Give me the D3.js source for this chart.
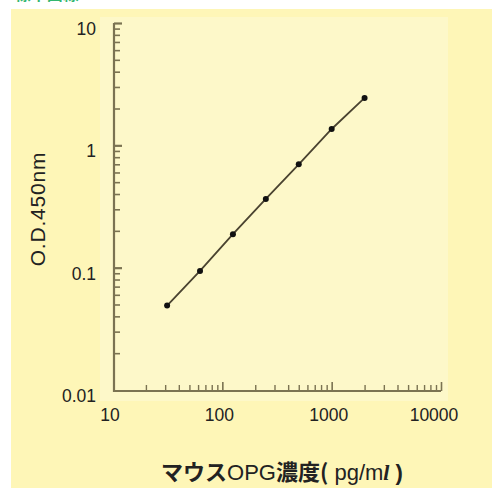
<!DOCTYPE html>
<html>
<head>
<meta charset="utf-8">
<script src="https://cdn.jsdelivr.net/npm/d3@7"></script>
<style>
  body { margin: 0; background: #fff; }
  svg { display: block; font-family: Arial, "Liberation Sans", sans-serif; }
</style>
</head>
<body>
<script>
var width = 492;
var height = 488;

// standard curve: concentration (pg/ml) vs O.D.450nm
var conc = [31.25, 62.5, 125, 250, 500, 1000, 2000];
var od = [0.049, 0.094, 0.188, 0.365, 0.70, 1.36, 2.44];

var xMajor = [10, 100, 1000, 10000];
var xLabels = ["10", "100", "1000", "10000"];
var yMajor = [0.01, 0.1, 1, 10];
var yLabels = ["0.01", "0.1", "1", "10"];

var axisCol = "#7b7352";

var svg = d3.select("body").append("svg")
    .attr("width", width)
    .attr("height", height);

// green section heading, cropped at the top edge like the source
svg.append("text")
    .attr("x", 0)
    .attr("y", 0)
    .style("font-size", "16px")
    .style("font-family", "'Noto Sans CJK JP', sans-serif")
    .style("font-weight", "bold")
    .attr("fill", "#34b66f")
    .text("4.標準曲線");

svg.append("rect")
    .attr("x", 11).attr("y", 9)
    .attr("width", width - 11).attr("height", height - 9)
    .attr("fill", "#fef6b7");

svg.append("rect")
    .attr("x", 100).attr("y", 17)
    .attr("width", 348).attr("height", 384)
    .attr("fill", "#fdf8c9");

var x = d3.scaleLog().domain([10, 10000]).range([113, 441]);
var y = d3.scaleLog().domain([0.01, 10]).range([390, 23]);

// minor tick values 2..9 per decade
function minors(lo, hi) {
  var out = [];
  for (var d = lo; d < hi; d *= 10) {
    for (var k = 2; k <= 9; k++) out.push(d * k);
  }
  return out;
}

// y axis: ticks pointing inside
var gy = svg.append("g").attr("transform", "translate(114,0)");
gy.append("g")
    .call(d3.axisRight(y).tickValues(minors(0.01, 10)).tickSize(6).tickFormat(""))
    .call(function(g) { g.select(".domain").remove(); })
    .selectAll("line").attr("stroke", axisCol).attr("stroke-width", 1.6);
gy.append("g")
    .call(d3.axisRight(y).tickValues([0.1, 1, 10]).tickSize(8).tickFormat(""))
    .call(function(g) { g.select(".domain").remove(); })
    .selectAll("line").attr("stroke", axisCol).attr("stroke-width", 2.2);

// x axis: ticks pointing up
var gx = svg.append("g").attr("transform", "translate(0,391)");
gx.append("g")
    .call(d3.axisTop(x).tickValues(minors(10, 10000)).tickSize(6).tickFormat(""))
    .call(function(g) { g.select(".domain").remove(); })
    .selectAll("line").attr("stroke", axisCol).attr("stroke-width", 1.4);
gx.append("g")
    .call(d3.axisTop(x).tickValues([100, 1000, 10000]).tickSize(9).tickFormat(""))
    .call(function(g) { g.select(".domain").remove(); })
    .selectAll("line").attr("stroke", axisCol).attr("stroke-width", 1.6);

// axis lines
svg.append("path")
    .attr("d", "M114," + y(10) + "V391H" + x(10000))
    .attr("fill", "none")
    .attr("stroke", axisCol)
    .attr("stroke-width", 2.2);

// tick labels
svg.append("g").selectAll("text")
    .data(yMajor)
  .enter().append("text")
    .attr("x", 96)
    .attr("y", function(d) { return y(d) + 12; })
    .attr("text-anchor", "end")
    .style("font-size", "17.5px")
    .attr("fill", "#222")
    .text(function(d, i) { return yLabels[i]; });

svg.append("g").selectAll("text")
    .data(xMajor)
  .enter().append("text")
    .attr("x", function(d, i) { return x(d) - (i == 3 ? 7 : 3); })
    .attr("y", 421)
    .attr("text-anchor", "middle")
    .style("font-size", "17.5px")
    .attr("fill", "#222")
    .text(function(d, i) { return xLabels[i]; });

// data line + points
var line = d3.line()
    .x(function(d, i) { return x(conc[i]); })
    .y(function(d) { return y(d); });

svg.append("path")
    .datum(od)
    .attr("d", line)
    .attr("fill", "none")
    .attr("stroke", "#4a4330")
    .attr("stroke-width", 1.8);

svg.selectAll("circle")
    .data(od)
  .enter().append("circle")
    .attr("cx", function(d, i) { return x(conc[i]); })
    .attr("cy", function(d) { return y(d); })
    .attr("r", 3)
    .attr("fill", "#111");

// axis titles
svg.append("text")
    .attr("transform", "translate(45,209) rotate(-90)")
    .attr("text-anchor", "middle")
    .style("font-size", "21px")
    .style("letter-spacing", "0.8px")
    .attr("fill", "#222")
    .text("O.D.450nm");

var xt = svg.append("text")
    .attr("x", 282)
    .attr("y", 480)
    .attr("text-anchor", "middle")
    .style("font-size", "22px")
    .attr("fill", "#222");
xt.append("tspan").style("font-weight", "bold")
    .style("font-family", "'Noto Sans CJK JP', sans-serif").text("マウス");
xt.append("tspan").text("OPG");
xt.append("tspan").style("font-weight", "bold")
    .style("font-family", "'Noto Sans CJK JP', sans-serif").text("濃度(");
xt.append("tspan").text(" pg/m");
xt.append("tspan").style("font-weight", "bold").style("font-style", "italic")
    .style("font-family", "'Times New Roman', 'Liberation Serif', serif").text("l");
xt.append("tspan").style("font-weight", "bold").text(" )");
</script>
</body>
</html>
